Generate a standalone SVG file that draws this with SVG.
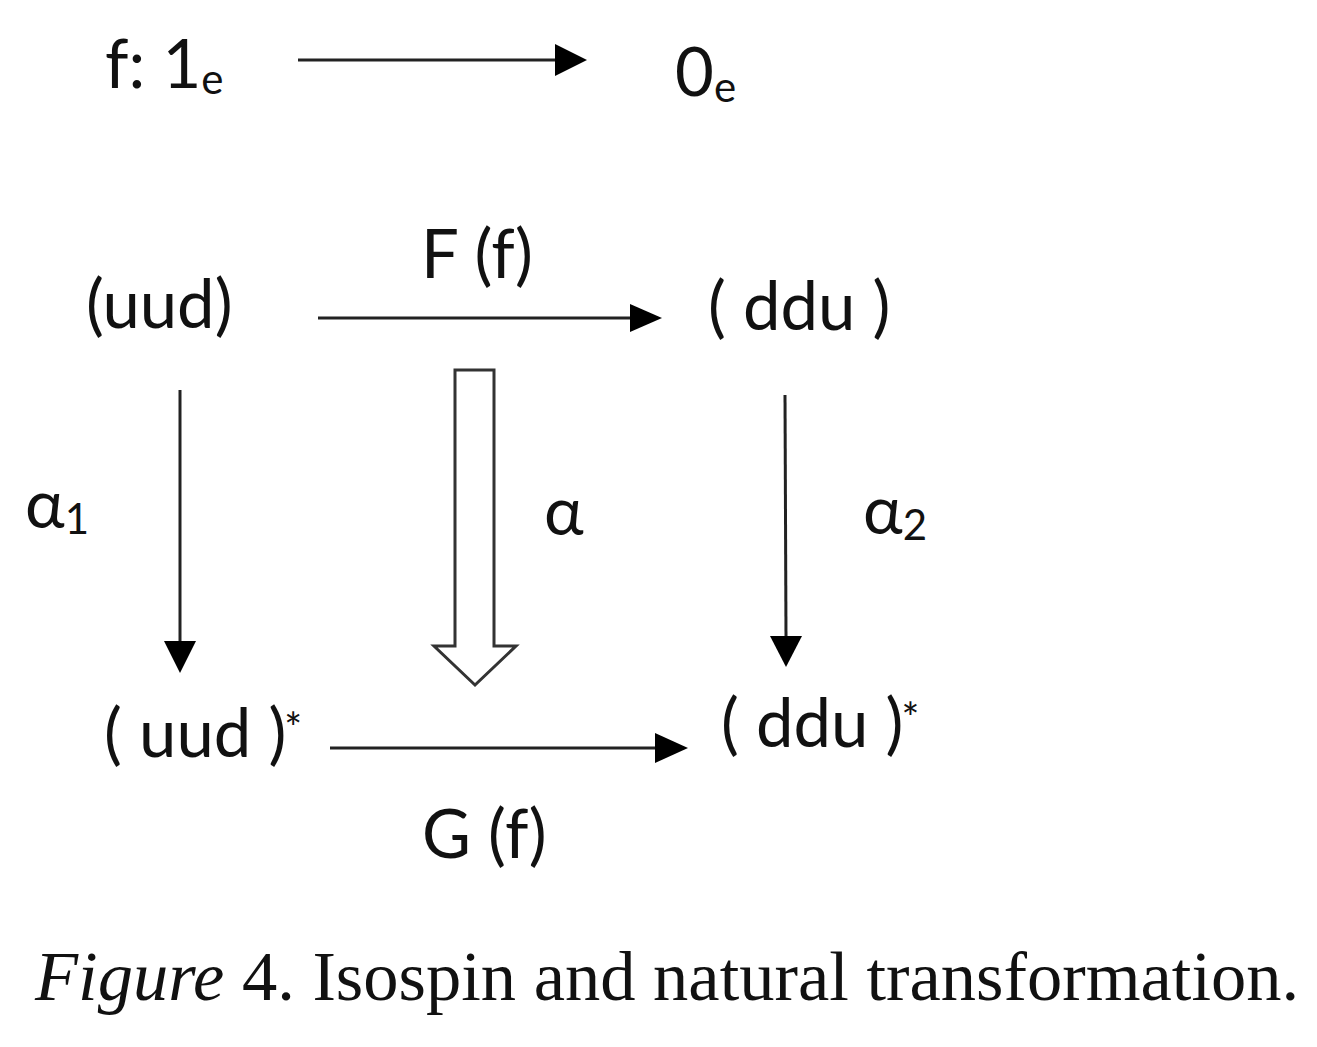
<svg xmlns="http://www.w3.org/2000/svg" width="1317" height="1047" viewBox="0 0 1317 1047">
<style>
.t{font-family:Lato,"Open Sans","Liberation Sans",sans-serif;font-size:67px;fill:#111}
.s{font-size:42px}
.st{font-size:42px}
.cap{font-family:"Liberation Serif","Times New Roman",serif;font-size:70.5px;fill:#111}
.ln{stroke:#222;stroke-width:3;fill:none}
</style>
<rect width="1317" height="1047" fill="#fff"/>
<g id="f-label"><text class="t" x="105" y="88">f: 1<tspan class="s" dy="6">e</tspan></text></g>
<g id="zero-e"><text class="t" x="675" y="96">0<tspan class="s" dy="6">e</tspan></text></g>
<g id="uud"><text class="t" x="86" y="328">(uud)</text></g>
<g id="ddu"><text class="t" x="708" y="330">( ddu )</text></g>
<g id="uud-star"><text class="t" x="104" y="757">( uud )<tspan class="st" dx="-2" dy="-14">*</tspan></text></g>
<g id="ddu-star"><text class="t" x="721" y="747">( ddu )<tspan class="st" dx="-2" dy="-14">*</tspan></text></g>
<g id="labels">
<text class="t" x="421" y="278">F (f)</text>
<text class="t" x="422" y="858">G (f)</text>
<text class="t" x="25" y="528">α<tspan class="s" dy="6">1</tspan></text>
<text class="t" x="544" y="535">α</text>
<text class="t" x="863" y="534">α<tspan class="s" dy="6">2</tspan></text>
</g>
<g id="connectors">
<line class="ln" x1="298" y1="60" x2="557" y2="60"/>
<path d="M555,44 L587,60 L555,76 Z" fill="#000"/>
<line class="ln" x1="318" y1="318" x2="632" y2="318"/>
<path d="M630,304 L662,318 L630,332 Z" fill="#000"/>
<line class="ln" x1="330" y1="748" x2="657" y2="748"/>
<path d="M655,733 L688,748 L655,763 Z" fill="#000"/>
<line class="ln" x1="180" y1="390" x2="180" y2="643"/>
<path d="M164,641 L180,673 L196,641 Z" fill="#000"/>
<line class="ln" x1="785" y1="395" x2="786" y2="638"/>
<path d="M770,636 L786,667 L802,636 Z" fill="#000"/>
<path d="M455,370 L494,370 L494,646 L516,646 L475,685 L434,646 L455,646 Z" fill="#fff" stroke="#333" stroke-width="3" stroke-linejoin="miter"/>
</g>
<g id="caption"><text class="cap" x="35" y="1000"><tspan font-style="italic">Figure</tspan> 4. Isospin and natural transformation.</text></g>
</svg>
